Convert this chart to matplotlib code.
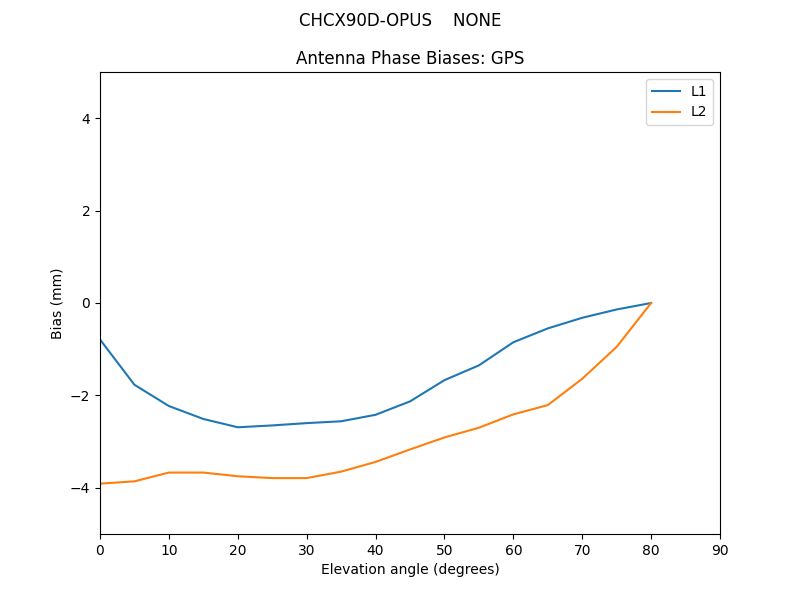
import matplotlib
matplotlib.use("Agg")
import matplotlib.pyplot as plt

elevation = [0, 5, 10, 15, 20, 25, 30, 35, 40, 45, 50, 55, 60, 65, 70, 75, 80]
l1_bias = [-0.79, -1.77, -2.23, -2.51, -2.69, -2.65, -2.60, -2.56, -2.42, -2.13,
           -1.67, -1.35, -0.85, -0.55, -0.32, -0.14, 0.0]
l2_bias = [-3.91, -3.86, -3.67, -3.67, -3.75, -3.79, -3.79, -3.65, -3.44, -3.17,
           -2.91, -2.70, -2.41, -2.21, -1.64, -0.95, 0.0]

fig, ax = plt.subplots(figsize=(8, 6), dpi=100)
ax.plot(elevation, l1_bias, label="L1")
ax.plot(elevation, l2_bias, label="L2")
ax.set_xlim(0, 90)
ax.set_ylim(-5, 5)
ax.set_xlabel("Elevation angle (degrees)")
ax.set_ylabel("Bias (mm)")
ax.set_title("Antenna Phase Biases: GPS")
fig.suptitle("CHCX90D-OPUS    NONE")
ax.legend(loc="upper right")
fig.savefig("out.png")
